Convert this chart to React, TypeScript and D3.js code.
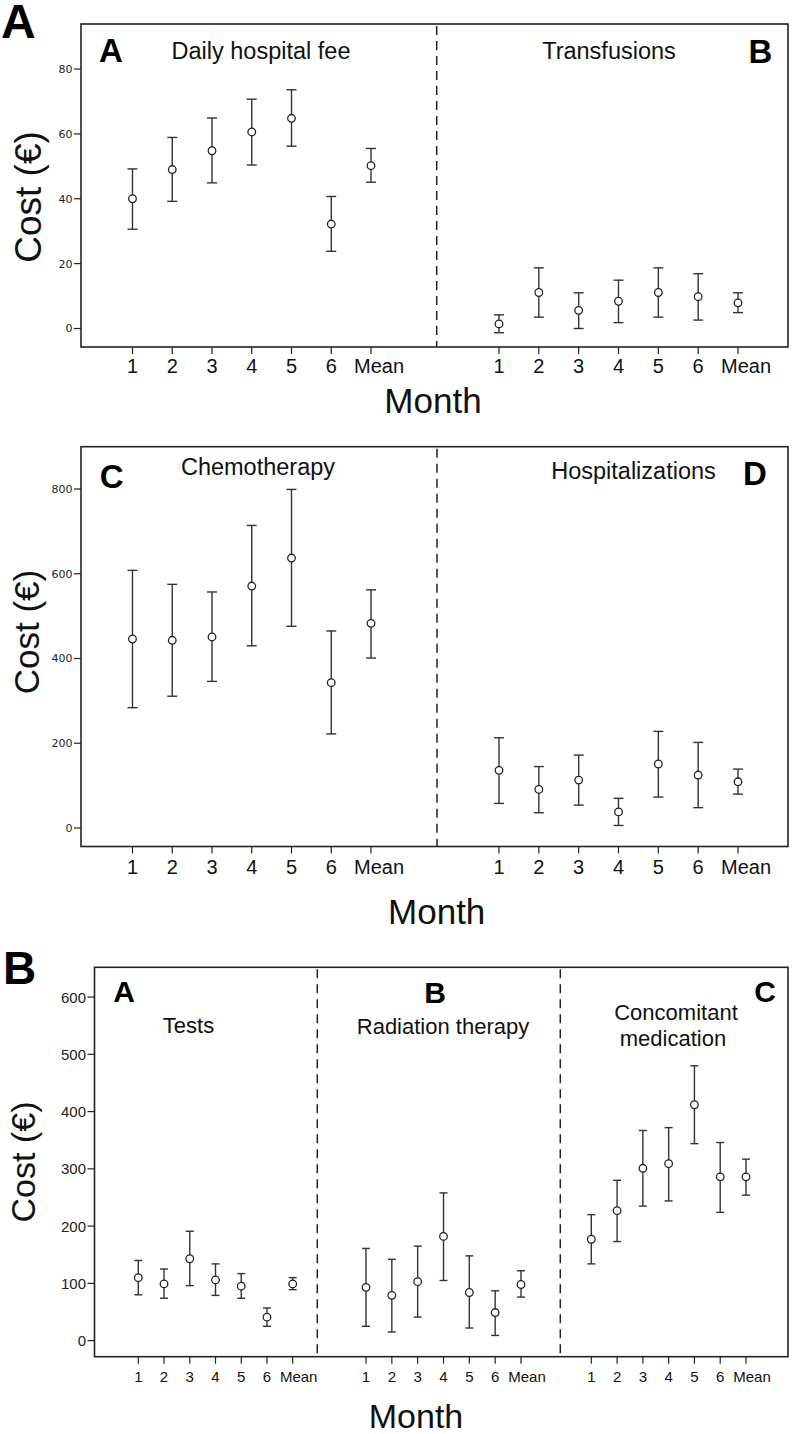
import React from 'react';
import * as d3 from 'd3';

// ---------- DATA ----------
const months = ["1", "2", "3", "4", "5", "6", "Mean"];

const dailyFeeMean = [40, 49, 54.8, 60.6, 64.8, 32.2, 50.2];
const dailyFeeLo = [30.6, 39.2, 44.9, 50.4, 56.2, 23.8, 45.1];
const dailyFeeHi = [49.2, 58.9, 64.9, 70.7, 73.6, 40.7, 55.5];

const transfusionsMean = [1.4, 11.1, 5.6, 8.4, 11.1, 9.8, 7.9];
const transfusionsLo = [-1.3, 3.5, 0.0, 1.8, 3.5, 2.6, 4.9];
const transfusionsHi = [4.2, 18.7, 11.0, 14.9, 18.7, 16.9, 11.0];

const chemoMean = [446, 443, 451, 571, 637, 343, 483];
const chemoLo = [284, 311, 346, 430, 476, 222, 401];
const chemoHi = [608, 575, 557, 714, 799, 465, 562];

const hospMean = [136, 91, 113, 38, 151, 125, 109];
const hospLo = [58, 36, 54, 6, 73, 48, 80];
const hospHi = [213, 145, 172, 70, 228, 202, 139];

const testsMean = [110, 99, 143, 106, 95, 41, 99];
const testsLo = [80, 74, 96, 79, 74, 25, 89];
const testsHi = [140, 125, 191, 134, 117, 57, 110];

const radiationMean = [93, 79, 103, 182, 84, 49, 98];
const radiationLo = [25, 15, 41, 105, 22, 9, 76];
const radiationHi = [161, 142, 165, 258, 148, 87, 122];

const concomMean = [177, 227, 301, 309, 412, 286, 286];
const concomLo = [134, 173, 235, 244, 344, 224, 254];
const concomHi = [220, 280, 367, 372, 480, 346, 317];

const ticksP1 = [0, 20, 40, 60, 80];
const ticksP2 = [0, 200, 400, 600, 800];
const ticksP3 = [0, 100, 200, 300, 400, 500, 600];

// ---------- STYLE ----------
const SANS = "'Liberation Sans', Arial, Helvetica, sans-serif";
const TICKFONT = "'DejaVu Sans', Verdana, sans-serif";
const INK = "#222";
const BAR = "#333";

type Series = { mean: number[]; lo: number[]; hi: number[] };

function Group({ s, x, y, cap, r }: { s: Series; x: d3.ScaleLinear<number, number>; y: d3.ScaleLinear<number, number>; cap: number; r: number }) {
  return (
    <g>
      {months.map((m, i) => {
        const cx = x(i);
        return (
          <g key={m}>
            <line x1={cx} x2={cx} y1={y(s.hi[i])} y2={y(s.lo[i])} stroke={BAR} strokeWidth={1.4} />
            <line x1={cx - cap} x2={cx + cap} y1={y(s.hi[i])} y2={y(s.hi[i])} stroke={BAR} strokeWidth={1.4} />
            <line x1={cx - cap} x2={cx + cap} y1={y(s.lo[i])} y2={y(s.lo[i])} stroke={BAR} strokeWidth={1.4} />
            <circle cx={cx} cy={y(s.mean[i])} r={r} fill="white" stroke={INK} strokeWidth={1.3} />
          </g>
        );
      })}
    </g>
  );
}

type GroupCfg = { s: Series; x0: number; x1: number };

function Panel(props: {
  l: number; r: number; t: number; b: number;
  y: d3.ScaleLinear<number, number>;
  ticks: number[];
  tickFont: string; tickSize: number; tickRight: number;
  groups: GroupCfg[];
  dividers: number[];
  xFont: number; xBase: number; meanShift: number;
  cap: number; rad: number;
}) {
  const { l, r, t, b, y, ticks, groups, dividers } = props;
  return (
    <g>
      {groups.map((g, gi) => {
        const x = d3.scaleLinear().domain([0, months.length - 1]).range([g.x0, g.x1]);
        return (
          <g key={gi}>
            {months.map((m, i) => (
              <g key={m}>
                <line x1={x(i)} x2={x(i)} y1={b} y2={b + 7} stroke={INK} strokeWidth={1.2} />
                <text x={x(i) + (m === "Mean" ? props.meanShift : 0)} y={props.xBase} fontFamily={SANS} fontSize={props.xFont} textAnchor="middle" fill="#111">{m}</text>
              </g>
            ))}
            <Group s={g.s} x={x} y={y} cap={props.cap} r={props.rad} />
          </g>
        );
      })}
      {dividers.map((dx, i) => (
        <line key={i} x1={dx} x2={dx} y1={t + 2} y2={b} stroke={INK} strokeWidth={1.5} strokeDasharray="9 6" />
      ))}
      {ticks.map((v) => (
        <g key={v}>
          <line x1={l - 7} x2={l} y1={y(v)} y2={y(v)} stroke={INK} strokeWidth={1.2} />
          <text x={props.tickRight} y={y(v)} dy="0.36em" fontFamily={props.tickFont} fontSize={props.tickSize} textAnchor="end" fill="#222">{v}</text>
        </g>
      ))}
      <rect x={l} y={t} width={r - l} height={b - t} fill="none" stroke={INK} strokeWidth={1.6} />
    </g>
  );
}

export default function App() {
  const y1 = d3.scaleLinear().domain([0, 80]).range([328.5, 69]);
  const y2 = d3.scaleLinear().domain([0, 800]).range([828, 489]);
  const y3 = d3.scaleLinear().domain([0, 100]).range([1340.6, 1283.35]);

  const dailyFee = { mean: dailyFeeMean, lo: dailyFeeLo, hi: dailyFeeHi };
  const transfusions = { mean: transfusionsMean, lo: transfusionsLo, hi: transfusionsHi };
  const chemo = { mean: chemoMean, lo: chemoLo, hi: chemoHi };
  const hosp = { mean: hospMean, lo: hospLo, hi: hospHi };
  const tests = { mean: testsMean, lo: testsLo, hi: testsHi };
  const radiation = { mean: radiationMean, lo: radiationLo, hi: radiationHi };
  const concom = { mean: concomMean, lo: concomLo, hi: concomHi };

  return (
    <svg width={792} height={1434} viewBox="0 0 792 1434" style={{ position: "absolute", left: 0, top: 0, background: "white" }}>
      <rect x={0} y={0} width={792} height={1434} fill="white" />

      {/* ===== Figure A ===== */}
      <text x={1} y={38} fontFamily={SANS} fontWeight="bold" fontSize={48} fill="#000">A</text>

      {/* Panel 1 */}
      <Panel l={81} r={788} t={24} b={347} y={y1} ticks={ticksP1} tickFont={TICKFONT} tickSize={11} tickRight={72.5}
        groups={[{ s: dailyFee, x0: 132.5, x1: 371 }, { s: transfusions, x0: 499, x1: 738 }]}
        dividers={[436.7]} xFont={20} xBase={373} meanShift={8} cap={5} rad={3.8} />
      <text x={99} y={62} fontFamily={SANS} fontWeight="bold" fontSize={33}>A</text>
      <text x={261} y={59} fontFamily={SANS} fontSize={23.5} textAnchor="middle" fill="#111">Daily hospital fee</text>
      <text x={609} y={59} fontFamily={SANS} fontSize={23.5} textAnchor="middle" fill="#111">Transfusions</text>
      <text x={760.5} y={63} fontFamily={SANS} fontWeight="bold" fontSize={33} textAnchor="middle">B</text>
      <text transform="translate(41,197) rotate(-90)" fontFamily={SANS} fontSize={37} textAnchor="middle" fill="#111">Cost (€)</text>
      <text x={433} y={413} fontFamily={SANS} fontSize={35} textAnchor="middle" fill="#111">Month</text>

      {/* Panel 2 */}
      <Panel l={81} r={788} t={446.7} b={846.5} y={y2} ticks={ticksP2} tickFont={TICKFONT} tickSize={11} tickRight={72.5}
        groups={[{ s: chemo, x0: 132.5, x1: 371 }, { s: hosp, x0: 499, x1: 738 }]}
        dividers={[437]} xFont={20} xBase={874} meanShift={8} cap={5} rad={3.8} />
      <text x={111.7} y={488} fontFamily={SANS} fontWeight="bold" fontSize={33} textAnchor="middle">C</text>
      <text x={258} y={475} fontFamily={SANS} fontSize={23.5} textAnchor="middle" fill="#111">Chemotherapy</text>
      <text x={633.5} y={479} fontFamily={SANS} fontSize={23.5} textAnchor="middle" fill="#111">Hospitalizations</text>
      <text x={755} y={485} fontFamily={SANS} fontWeight="bold" fontSize={33} textAnchor="middle">D</text>
      <text transform="translate(39,632) rotate(-90)" fontFamily={SANS} fontSize={35} textAnchor="middle" fill="#111">Cost (€)</text>
      <text x={436.7} y={924} fontFamily={SANS} fontSize={35} textAnchor="middle" fill="#111">Month</text>

      {/* ===== Figure B ===== */}
      <text x={3} y={984} fontFamily={SANS} fontWeight="bold" fontSize={46} fill="#000">B</text>

      <Panel l={94.5} r={788} t={967.3} b={1356.7} y={y3} ticks={ticksP3} tickFont={SANS} tickSize={15} tickRight={86}
        groups={[{ s: tests, x0: 138.3, x1: 292.7 }, { s: radiation, x0: 366, x1: 521 }, { s: concom, x0: 591.3, x1: 746 }]}
        dividers={[317.3, 560.3]} xFont={15} xBase={1382} meanShift={6} cap={4} rad={3.8} />
      <text x={124} y={1002} fontFamily={SANS} fontWeight="bold" fontSize={30} textAnchor="middle">A</text>
      <text x={188.5} y={1033} fontFamily={SANS} fontSize={22} textAnchor="middle" fill="#111">Tests</text>
      <text x={435} y={1003} fontFamily={SANS} fontWeight="bold" fontSize={30} textAnchor="middle">B</text>
      <text x={443} y={1034} fontFamily={SANS} fontSize={22} textAnchor="middle" fill="#111">Radiation therapy</text>
      <text x={765} y={1002} fontFamily={SANS} fontWeight="bold" fontSize={30} textAnchor="middle">C</text>
      <text x={676} y={1020} fontFamily={SANS} fontSize={22} textAnchor="middle" fill="#111">Concomitant</text>
      <text x={673} y={1046} fontFamily={SANS} fontSize={22} textAnchor="middle" fill="#111">medication</text>
      <text transform="translate(35,1162) rotate(-90)" fontFamily={SANS} fontSize={34} textAnchor="middle" fill="#111">Cost (€)</text>
      <text x={416} y={1428} fontFamily={SANS} fontSize={34} textAnchor="middle" fill="#111">Month</text>
    </svg>
  );
}
